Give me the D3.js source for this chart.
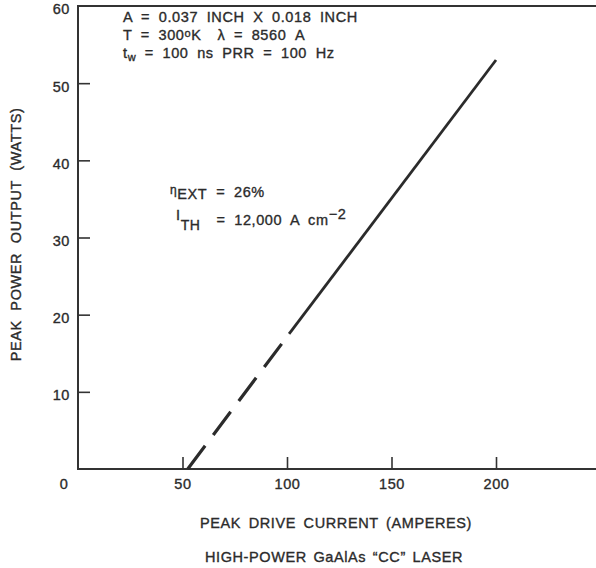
<!DOCTYPE html>
<html>
<head>
<meta charset="utf-8">
<script src="https://cdn.jsdelivr.net/npm/d3@7"></script>
<style>
  body { margin: 0; background: #fff; }
  svg text { font-family: "Liberation Sans", Arial, sans-serif; fill: #2b2b2b; stroke: #2b2b2b; stroke-width: 0.35; letter-spacing: 0.6px; }
  .axis text { font-size: 14.5px; }
  .axis line { stroke: #333; stroke-width: 1.6; }
</style>
</head>
<body>
<div class="container"></div>
<script>
// values
const xTicks = [50, 100, 150, 200];
const yTicks = [10, 20, 30, 40, 50, 60];
const dashedCurrent = [52.5, 101];   // extrapolated part near threshold
const dashedPower = [0, 17.5];
const solidCurrent = [101, 200];
const solidPower = [17.5, 53];

const width = 596;
const height = 568;
const origin = { x: 78, y: 469 };

const xScale = d3.scaleLinear().domain([0, 200]).range([origin.x, 496]);
const yScale = d3.scaleLinear().domain([0, 60]).range([origin.y, 6]);

const svg = d3.select('.container')
  .append('svg')
  .attr('width', width)
  .attr('height', height);

// frame (top, left, bottom)
svg.append('path')
  .attr('d', `M${width},${yScale(60)}H${xScale(0)}V${yScale(0)}H${width}`)
  .attr('fill', 'none')
  .attr('stroke', '#333')
  .attr('stroke-width', 2);

const xAxis = d3.axisBottom(xScale).tickValues(xTicks).tickSize(-12).tickPadding(10);
const yAxis = d3.axisLeft(yScale).tickValues(yTicks).tickSize(-12).tickPadding(8);

const gx = svg.append('g')
  .attr('class', 'axis')
  .attr('transform', `translate(0, ${origin.y})`)
  .call(xAxis);
gx.select('.domain').remove();

const gy = svg.append('g')
  .attr('class', 'axis')
  .attr('transform', `translate(${origin.x}, 0)`)
  .call(yAxis);
gy.select('.domain').remove();
gy.selectAll('text').attr('dy', '0.55em');
gy.selectAll('.tick').filter(d => d === 60).select('line').remove();

// shared origin label
svg.append('text')
  .attr('x', xScale(0) - 14)
  .attr('y', origin.y + 20)
  .attr('text-anchor', 'middle')
  .attr('font-size', 14.5)
  .text('0');

const line = d3.line().x(d => xScale(d[0])).y(d => yScale(d[1]));

svg.append('path')
  .attr('d', line(d3.zip(dashedCurrent, dashedPower)))
  .attr('fill', 'none')
  .attr('stroke', '#2b2b2b')
  .attr('stroke-width', 3.2)
  .attr('stroke-dasharray', '29,13.5');

svg.append('path')
  .attr('d', line(d3.zip(solidCurrent, solidPower)))
  .attr('fill', 'none')
  .attr('stroke', '#2b2b2b')
  .attr('stroke-width', 2.8);

// annotation block
const note = svg.append('g').attr('font-size', 14.5).attr('word-spacing', 4);
note.append('text').attr('x', 123).attr('y', 22)
  .text('A = 0.037 INCH X 0.018 INCH');
const t2 = note.append('text').attr('x', 123).attr('y', 40);
t2.append('tspan').text('T = 300');
t2.append('tspan').attr('font-size', 11).attr('dy', -3).text('o');
t2.append('tspan').attr('dy', 3).text('K');
t2.append('tspan').attr('dx', 16).text('λ = 8560 A');
const t3 = note.append('text').attr('x', 123).attr('y', 58);
t3.append('tspan').text('t');
t3.append('tspan').attr('font-size', 11).attr('dy', 3).text('w');
t3.append('tspan').attr('dy', -3).text(' = 100 ns PRR = 100 Hz');

const t4 = note.append('text').attr('x', 170).attr('y', 197);
t4.append('tspan').attr('font-size', 12).attr('dy', -3).text('η');
t4.append('tspan').attr('dy', 5).text('EXT');
t4.append('tspan').attr('dy', -2).attr('dx', 9).text('= 26%');

const t5 = note.append('text').attr('x', 176).attr('y', 225);
t5.append('tspan').attr('dy', -5).text('I');
t5.append('tspan').attr('font-size', 14).attr('dy', 10).text('TH');
t5.append('tspan').attr('dy', -5).attr('dx', 16).text('= 12,000 A cm');
t5.append('tspan').attr('dy', -6).text('−2');

// axis titles
svg.append('text')
  .attr('transform', `translate(21, ${yScale(30) - 3}) rotate(-90)`)
  .attr('text-anchor', 'middle')
  .attr('font-size', 14.5)
  .attr('word-spacing', 5)
  .text('PEAK POWER OUTPUT (WATTS)');

svg.append('text')
  .attr('x', 336)
  .attr('y', 528)
  .attr('text-anchor', 'middle')
  .attr('font-size', 14.5)
  .attr('word-spacing', 3)
  .text('PEAK DRIVE CURRENT (AMPERES)');

svg.append('text')
  .attr('x', 334)
  .attr('y', 562)
  .attr('text-anchor', 'middle')
  .attr('font-size', 14.5)
  .attr('word-spacing', 2)
  .text('HIGH-POWER GaAlAs “CC” LASER');
</script>
</body>
</html>
